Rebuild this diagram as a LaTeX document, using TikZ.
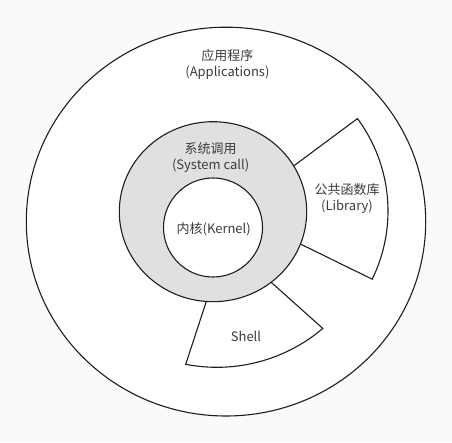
\documentclass[tikz,border=0pt]{standalone}
\usepackage{fontspec}
\usepackage{tikz}
\usetikzlibrary{positioning}
\newfontfamily\cjk{Noto Sans CJK SC}
\definecolor{bggray}{RGB}{250,250,250}
\definecolor{ringgray}{RGB}{224,224,224}
\definecolor{edgeblack}{RGB}{30,30,30}
\definecolor{labelgray}{RGB}{60,60,60}
\newcommand{\layerline}{1.1pt}
\newcommand{\labelsize}{\fontsize{13}{16}\selectfont}

\begin{document}
\begin{tikzpicture}[x=1pt, y=1pt,
	every node/.style={font=\cjk\labelsize, text=labelgray, align=center, inner sep=0pt},
	layer/.style={draw=edgeblack, line width=\layerline}]
	% The frame:
	\fill[bggray] (0,0) rectangle (452,442);
	\useasboundingbox (0,0) rectangle (452,442);
	% Applications:
	\filldraw[layer, fill=white] (226,220.4) ellipse [x radius=199.7, y radius=194.4];
	% Library and shell wedges:
	\coordinate (libtip) at (233,231);
	\coordinate (shelltip) at (225.9,200.2);
	\filldraw[layer, fill=white] (libtip) -- ++(-26.1:155)
		arc[start angle=-26.1, end angle=36.6, radius=155] -- cycle;
	\filldraw[layer, fill=white] (shelltip) -- ++(-40.2,-122.5)
		arc[start angle=-101, end angle=-49.7, radius=163.7] -- cycle;
	% System call ring and kernel:
	\filldraw[layer, fill=ringgray] (213,230.3) ellipse [x radius=93.7, y radius=90];
	\filldraw[layer, fill=white] (213,214.5) circle (49.5);
	% Labels:
	\node (apps) at (227.4,377.3) {应用程序\\(Applications)};
	\node (syscall) at (210.6,284.2) {系统调用\\(System call)};
	\node (kernel) at (213.7,212.7) {内核(Kernel)};
	\node (lib) at (347,243.3) {公共函数库\\(Library)};
	\node (shell) at (246,105.3) {Shell};
\end{tikzpicture}
\end{document}
